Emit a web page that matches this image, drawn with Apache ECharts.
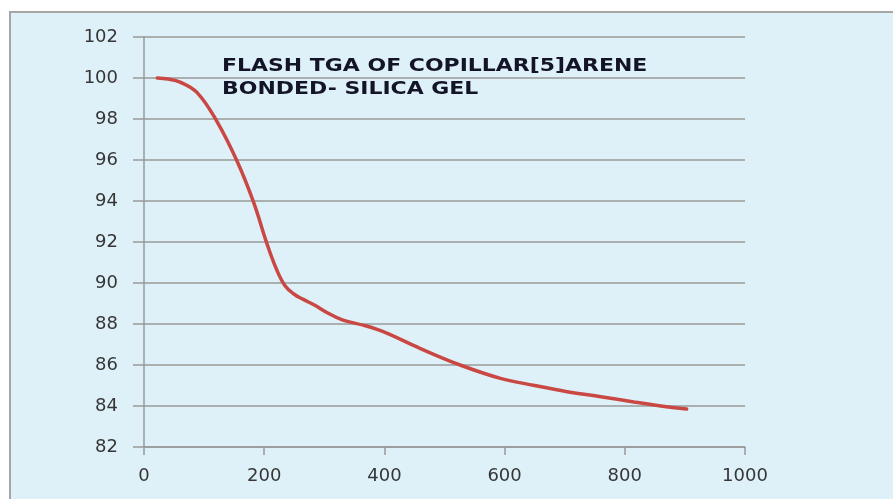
<!DOCTYPE html>
<html>
<head>
<meta charset="utf-8">
<script src="https://cdn.jsdelivr.net/npm/echarts@6/dist/echarts.min.js"></script>
<style>
  html, body { margin: 0; padding: 0; background: #fff; }
  #chart { width: 893px; height: 499px; }
</style>
</head>
<body>
<div id="chart"></div>
<script>
// temperature (x) and weight % (y)
var temps = [22, 40, 60, 88, 121, 154, 182, 204, 220, 235, 250, 265, 285, 305, 330, 370, 400, 460, 526, 593, 650, 704, 760, 815, 860, 903];
var weights = [100, 99.95, 99.8, 99.3, 97.9, 96.0, 93.97, 91.97, 90.7, 89.85, 89.45, 89.2, 88.9, 88.55, 88.2, 87.9, 87.6, 86.8, 86.0, 85.35, 85.0, 84.7, 84.45, 84.2, 84.0, 83.85];
var titleLines = ["FLASH TGA OF COPILLAR[5]ARENE", "BONDED- SILICA GEL"];

var myChart = echarts.init(document.getElementById("chart"));
var labelStyle = {
  color: "#363636",
  fontFamily: "DejaVu Sans",
  fontSize: 18
};
var option = {
  animation: false,
  graphic: [
    {
      type: "rect",
      z: -10,
      shape: { x: 10, y: 12, width: 900, height: 500 },
      style: { fill: "#dff1f8", stroke: "#a6a6a6", lineWidth: 2 }
    },
    {
      type: "text",
      left: 222,
      top: 55,
      scaleX: 1.22,
      style: {
        text: titleLines.join("\n"),
        font: "bold 18px 'DejaVu Sans'",
        lineHeight: 23,
        fill: "#141428"
      }
    }
  ],
  grid: {
    left: 144,
    right: 148,
    top: 37,
    bottom: 52
  },
  xAxis: {
    type: "value",
    min: 0,
    max: 1000,
    interval: 200,
    axisLine: { show: true, lineStyle: { color: "#999", width: 1.5 } },
    axisTick: { show: true, length: 8, lineStyle: { color: "#999", width: 1.5 } },
    axisLabel: Object.assign({ margin: 20, formatter: function (v) { return String(v); } }, labelStyle),
    splitLine: { show: false }
  },
  yAxis: {
    type: "value",
    min: 82,
    max: 102,
    interval: 2,
    axisLine: { show: true, lineStyle: { color: "#999", width: 1.5 } },
    axisTick: { show: true, length: 11, lineStyle: { color: "#999", width: 1.5 } },
    axisLabel: Object.assign({ margin: 26 }, labelStyle),
    splitLine: { show: true, lineStyle: { color: "#999", width: 1.5 } }
  },
  series: [
    {
      type: "line",
      smooth: 0.4,
      showSymbol: false,
      data: temps.map(function (t, i) { return [t, weights[i]]; }),
      lineStyle: { color: "#c94844", width: 3.5, cap: "round" }
    }
  ]
};
myChart.setOption(option);
</script>
</body>
</html>
